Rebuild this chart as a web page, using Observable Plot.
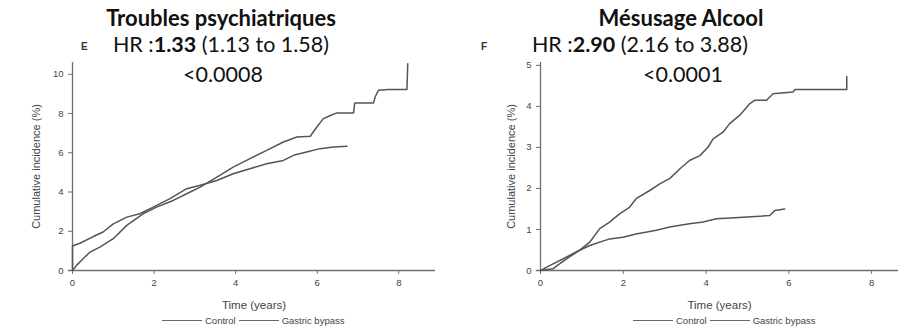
<!DOCTYPE html>
<html>
<head>
<meta charset="utf-8">
<script src="https://cdn.jsdelivr.net/npm/d3@7"></script>
<script src="https://cdn.jsdelivr.net/npm/@observablehq/plot@0.6"></script>
<style>
  html, body { margin: 0; padding: 0; background: #fff; }
  #wrap { position: relative; width: 899px; height: 330px; overflow: hidden; background: #fff; }
  .panel { position: absolute; top: 0; width: 450px; height: 330px; }
  .t { position: absolute; font-family: Lato, "Open Sans", sans-serif; color: #111; white-space: nowrap; transform: translateX(-50%); }
  .title { font-weight: 700; font-size: 22px; }
  .hr { font-size: 21.5px; }
  .letter { position: absolute; font-family: "Liberation Sans", Arial, sans-serif; font-weight: 700; font-size: 10px; color: #333; }
  .legend { position: absolute; font-family: "Liberation Sans", Arial, sans-serif; font-size: 9.5px; color: #444; white-space: nowrap; display: flex; align-items: center; }
  .legend .sw { display: inline-block; width: 40px; border-top: 1.2px solid #666; margin: 0 3px; }
</style>
</head>
<body>
<div id="wrap"></div>
<script>
// ---- data ----
const panelTitles = ["Troubles psychiatriques", "Mésusage Alcool"];
const panelLetters = ["E", "F"];
const hrValues = ["1.33", "2.90"];
const hrIntervals = ["(1.13 to 1.58)", "(2.16 to 3.88)"];
const pValues = ["<0.0008", "<0.0001"];
const seriesNames = ["Control", "Gastric bypass"];
const xTicks = [0, 2, 4, 6, 8];
const yTicksPsy = [0, 2, 4, 6, 8, 10];
const yTicksAlc = [0, 1, 2, 3, 4, 5];

// Troubles psychiatriques: [time (years), cumulative incidence (%)]
const psyControl = [[0,0],[0,1.25],[0.18,1.39],[0.51,1.73],[0.75,1.96],[1.0,2.38],[1.33,2.72],[1.65,2.89],[1.98,3.23],[2.39,3.66],[2.8,4.17],[3.13,4.34],[3.54,4.59],[3.94,4.93],[4.35,5.19],[4.76,5.44],[5.17,5.61],[5.42,5.87],[5.74,6.04],[6.07,6.21],[6.4,6.29],[6.73,6.33]];
const psyBypass = [[0,0],[0.1,0.26],[0.26,0.6],[0.43,0.94],[0.67,1.19],[1.0,1.62],[1.33,2.3],[1.73,2.89],[2.06,3.23],[2.47,3.57],[2.8,3.91],[3.13,4.25],[3.54,4.76],[3.94,5.27],[4.35,5.7],[4.76,6.12],[5.17,6.55],[5.5,6.8],[5.83,6.84],[5.99,7.31],[6.15,7.74],[6.28,7.86],[6.48,8.03],[6.89,8.03],[6.92,8.54],[7.38,8.54],[7.42,8.84],[7.5,9.18],[7.75,9.22],[8.2,9.22],[8.22,10.54]];

// Mésusage Alcool
const alcControl = [[0,0],[0.22,0.12],[0.54,0.28],[0.86,0.45],[1.19,0.61],[1.67,0.77],[1.99,0.81],[2.31,0.89],[2.8,0.98],[3.12,1.06],[3.6,1.14],[3.93,1.18],[4.25,1.26],[4.9,1.3],[5.54,1.34],[5.66,1.46],[5.9,1.5]];
const alcBypass = [[0,0],[0.3,0.04],[0.46,0.16],[0.7,0.33],[0.94,0.49],[1.19,0.69],[1.43,1.02],[1.67,1.18],[1.91,1.38],[2.15,1.54],[2.31,1.75],[2.64,1.95],[2.88,2.11],[3.12,2.24],[3.37,2.48],[3.6,2.68],[3.85,2.8],[4.05,3.01],[4.17,3.21],[4.41,3.37],[4.57,3.58],[4.81,3.78],[5.06,4.07],[5.18,4.15],[5.46,4.15],[5.62,4.31],[6.1,4.35],[6.15,4.41],[7.4,4.41],[7.4,4.73]];

// ---- drawing ----
const wrap = document.getElementById("wrap");
const axisColor = "#707070";
const lineColor = "#555";
const tickFont = "'Liberation Sans', Arial, sans-serif";

function makePanel(cfg) {
  const el = document.createElement("div");
  el.className = "panel";
  el.style.left = cfg.left + "px";
  const chart = Plot.plot({
    width: 450,
    height: 330,
    marginLeft: cfg.marginLeft,
    marginRight: cfg.marginRight,
    marginTop: cfg.marginTop,
    marginBottom: 60,
    style: { background: "transparent", fontFamily: tickFont, fontSize: "9.5px", color: "#444", overflow: "visible" },
    x: { domain: cfg.xDomain },
    y: { domain: cfg.yDomain },
    marks: [
      Plot.ruleY([0], { stroke: axisColor, strokeWidth: 1.3, x1: cfg.xDomain[0] - 0.1, x2: cfg.xDomain[1] }),
      Plot.ruleX([0], { stroke: axisColor, strokeWidth: 1.3 }),
      Plot.axisX({ ticks: xTicks, tickFormat: d => String(d), tickSize: 4, stroke: axisColor, label: null, fontSize: 9.5 }),
      Plot.axisX({ ticks: [], label: "Time (years)", labelAnchor: "center", labelArrow: "none", labelOffset: 38, fontSize: 11.5 }),
      Plot.axisY({ ticks: cfg.yTicks, tickFormat: d => String(d), tickSize: 4, stroke: axisColor, label: null, fontSize: 9.5 }),
      Plot.axisY({ ticks: [], label: "Cumulative incidence (%)", labelAnchor: "center", labelArrow: "none", labelOffset: cfg.labelOffset, fontSize: 11 }),
      Plot.line(cfg.series[1], { x: d => d[0], y: d => d[1], stroke: lineColor, strokeWidth: 1.5 }),
      Plot.line(cfg.series[0], { x: d => d[0], y: d => d[1], stroke: lineColor, strokeWidth: 1.5 })
    ]
  });
  el.appendChild(chart);
  wrap.appendChild(el);
}

makePanel({ left: 0, marginLeft: 72, marginRight: 15, marginTop: 62, xDomain: [0, 8.9], yDomain: [0, 10.6], yTicks: yTicksPsy, labelOffset: 40, series: [psyControl, psyBypass] });
makePanel({ left: 450, marginLeft: 90, marginRight: 2, marginTop: 62, xDomain: [0, 8.65], yDomain: [0, 5.07], yTicks: yTicksAlc, labelOffset: 33, series: [alcControl, alcBypass] });

function addText(cls, html, x, y) {
  const d = document.createElement("div");
  d.className = cls;
  d.innerHTML = html;
  d.style.left = x + "px";
  d.style.top = y + "px";
  wrap.appendChild(d);
  return d;
}

const centers = [[221, 221, 223], [681, 640, 683]];
const letterX = [81, 481];
for (let i = 0; i < 2; i++) {
  addText("t title", panelTitles[i], centers[i][0], 4);
  addText("t hr", "HR :<b>" + hrValues[i] + "</b> " + hrIntervals[i], centers[i][1], 31);
  addText("t hr", pValues[i].replace("<", "&lt;"), centers[i][2], 61);
  addText("letter", panelLetters[i], letterX[i], 41);
}

const legendX = [159, 630];
for (let i = 0; i < 2; i++) {
  const lg = document.createElement("div");
  lg.className = "legend";
  lg.style.left = legendX[i] + "px";
  lg.style.top = "315px";
  lg.innerHTML = seriesNames.map(n => '<span class="sw"></span><span>' + n + '</span>').join("");
  wrap.appendChild(lg);
}
</script>
</body>
</html>
